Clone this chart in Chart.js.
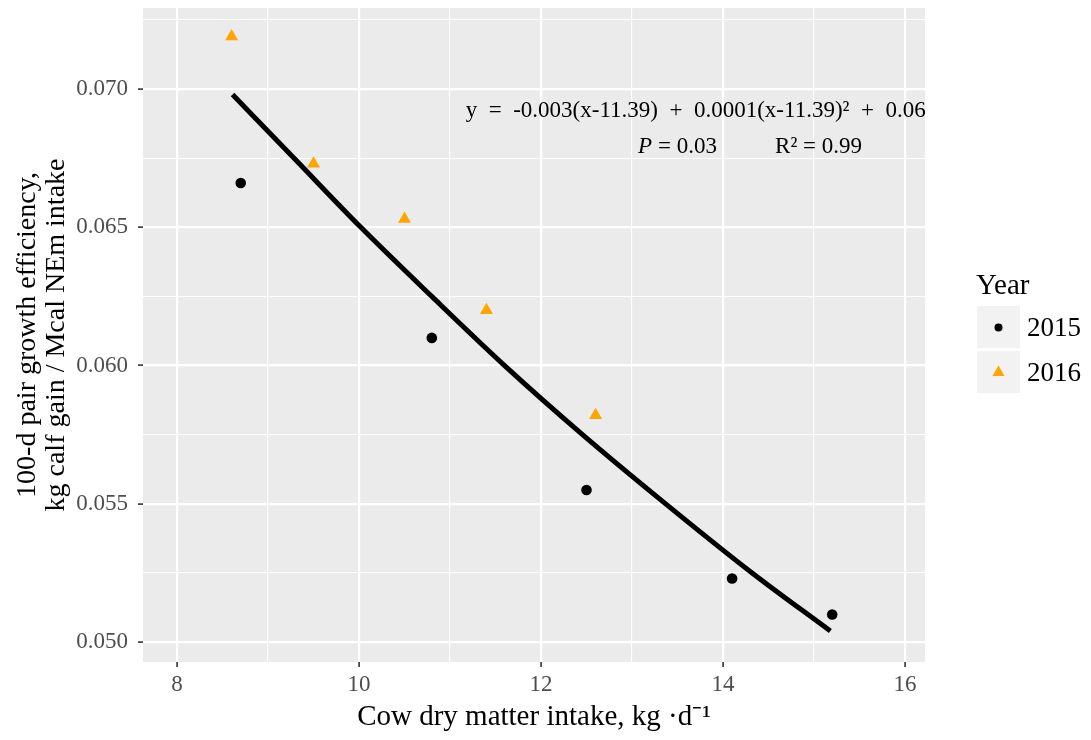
<!DOCTYPE html>
<html lang="en">
<head>
<meta charset="UTF-8" />
<title>Pair growth efficiency</title>
<script src="https://cdn.jsdelivr.net/npm/chart.js"></script>
<style>
  html, body { margin: 0; padding: 0; background: #fff; }
  #wrap { width: 1091px; height: 740px; }
</style>
</head>
<body>
<div id="wrap"><canvas id="myChart"></canvas></div>
<script>
// cow dry matter intake (kg/d) vs 100-d pair growth efficiency
const intake2015 = [8.7, 10.8, 12.5, 14.1, 15.2];
const eff2015 = [0.0666, 0.0610, 0.0555, 0.0523, 0.0510];
const intake2016 = [8.6, 9.5, 10.5, 11.4, 12.6];
const eff2016 = [0.0719, 0.0673, 0.0653, 0.0620, 0.0582];

// quadratic fit line
const fitX = [8.61, 9.3, 10.02, 10.8, 11.6, 12.44, 13.37, 14.32, 15.18];
const fitY = [0.0698, 0.06745, 0.0650, 0.0625, 0.0600, 0.05755, 0.0550, 0.0525, 0.0504];

const xTicks = [8, 10, 12, 14, 16];
const xMinor = [9, 11, 13, 15];
const yTicks = [0.050, 0.055, 0.060, 0.065, 0.070];
const yMinor = [0.0525, 0.0575, 0.0625, 0.0675, 0.0725];

const years = ["2015", "2016"];
const orange = "#FFA500";
const serif = "'Liberation Serif', 'Times New Roman', serif";

const toPts = (xs, ys) => xs.map((x, i) => ({ x: x, y: ys[i] }));

// grey panel behind the plot
const panelBg = {
  id: "panelBg",
  beforeDraw(chart) {
    const { ctx, chartArea: a } = chart;
    ctx.save();
    ctx.fillStyle = "#EBEBEB";
    ctx.fillRect(a.left, a.top, a.right - a.left, a.bottom - a.top);
    ctx.restore();
  }
};

// fit equation + stats
const fitLabel = {
  id: "fitLabel",
  afterDraw(chart) {
    const { ctx, scales: { x, y } } = chart;
    const f = "23px " + serif, fi = "italic 23px " + serif;
    ctx.save();
    ctx.fillStyle = "#000";
    ctx.textBaseline = "middle";
    ctx.textAlign = "center";
    ctx.font = f;
    ctx.fillText("y  =  -0.003(x-11.39)  +  0.0001(x-11.39)\u00B2  +  0.06",
      x.getPixelForValue(13.7), y.getPixelForValue(0.0692));

    // P = 0.03 with italic P
    const px = x.getPixelForValue(13.5), py = y.getPixelForValue(0.0679);
    ctx.font = fi;
    const wP = ctx.measureText("P").width;
    ctx.font = f;
    const wRest = ctx.measureText(" = 0.03").width;
    ctx.textAlign = "left";
    const sx = px - (wP + wRest) / 2;
    ctx.font = fi;
    ctx.fillText("P", sx, py);
    ctx.font = f;
    ctx.fillText(" = 0.03", sx + wP, py);

    ctx.textAlign = "center";
    ctx.fillText("R\u00B2 = 0.99", x.getPixelForValue(15.05), py);
    ctx.restore();
  }
};

// legend on the right: title and grey key boxes
const yearLegend = {
  id: "yearLegend",
  afterDraw(chart) {
    const { ctx } = chart;
    ctx.save();
    ctx.fillStyle = "#000";
    ctx.textBaseline = "alphabetic";
    ctx.textAlign = "left";
    ctx.font = "29px " + serif;
    ctx.fillText("Year", 976, 294);

    const boxX = 977, boxW = 43, boxTop = [306, 351];
    boxTop.forEach((top, i) => {
      ctx.fillStyle = "#F2F2F2";
      ctx.fillRect(boxX, top, boxW, boxW - 1);
      const cx = boxX + boxW / 2, cy = top + boxW / 2;
      if (i === 0) {
        ctx.fillStyle = "#000";
        ctx.beginPath();
        ctx.arc(cx, cy, 4, 0, Math.PI * 2);
        ctx.fill();
      } else {
        const r = 7;
        ctx.fillStyle = orange;
        ctx.beginPath();
        ctx.moveTo(cx, cy - r);
        ctx.lineTo(cx + r * 0.866, cy + r / 2);
        ctx.lineTo(cx - r * 0.866, cy + r / 2);
        ctx.closePath();
        ctx.fill();
      }
      ctx.fillStyle = "#000";
      ctx.font = "27px " + serif;
      ctx.textBaseline = "middle";
      ctx.fillText(years[i], 1027, cy + 1);
    });
    ctx.restore();
  }
};

const isMajor = (list, v) => list.some(t => Math.abs(t - v) < 1e-9);

const ctx = document.getElementById("myChart");
new Chart(ctx, {
  type: "scatter",
  data: {
    datasets: [
      {
        label: "fit",
        data: toPts(fitX, fitY),
        showLine: true,
        borderColor: "#000",
        borderWidth: 5,
        pointRadius: 0,
        cubicInterpolationMode: "monotone",
        order: 0
      },
      {
        label: years[0],
        data: toPts(intake2015, eff2015),
        pointStyle: "circle",
        pointRadius: 5.3,
        backgroundColor: "#000",
        borderWidth: 0,
        order: 1
      },
      {
        label: years[1],
        data: toPts(intake2016, eff2016),
        pointStyle: "triangle",
        pointRadius: 7.5,
        backgroundColor: orange,
        borderWidth: 0,
        order: 2
      }
    ]
  },
  options: {
    responsive: true,
    maintainAspectRatio: false,
    animation: false,
    layout: { padding: { top: 8, right: 166, left: 0, bottom: 0 } },
    plugins: {
      legend: { display: false },
      tooltip: { enabled: false }
    },
    scales: {
      x: {
        type: "linear",
        min: 7.626,
        max: 16.22,
        afterBuildTicks(s) {
          s.ticks = [...xTicks, ...xMinor].sort((a, b) => a - b).map(v => ({ value: v }));
        },
        afterFit(s) {
          s.height = 78;
          s.paddingLeft = 0;
          s.paddingRight = 0;
        },
        border: { display: false },
        grid: {
          color: "#FFFFFF",
          lineWidth: c => isMajor(xTicks, c.tick.value) ? 2.2 : 1.1,
          tickColor: c => isMajor(xTicks, c.tick.value) ? "#333333" : "rgba(0,0,0,0)",
          tickWidth: 1.6,
          tickLength: 5
        },
        ticks: {
          autoSkip: false,
          maxRotation: 0,
          padding: 4,
          color: "#4D4D4D",
          font: { family: serif, size: 23 },
          callback: v => isMajor(xTicks, v) ? String(v) : ""
        },
        title: {
          display: true,
          text: "Cow dry matter intake, kg \u00B7d\u207B\u00B9",
          color: "#000",
          font: { family: serif, size: 29 },
          padding: { top: 0, bottom: 5 }
        }
      },
      y: {
        type: "linear",
        min: 0.04928,
        max: 0.07293,
        afterBuildTicks(s) {
          s.ticks = [...yTicks, ...yMinor].sort((a, b) => a - b).map(v => ({ value: v }));
        },
        afterFit(s) {
          s.width = 143;
          s.paddingTop = 0;
          s.paddingBottom = 0;
        },
        border: { display: false },
        grid: {
          color: "#FFFFFF",
          lineWidth: c => isMajor(yTicks, c.tick.value) ? 2.2 : 1.1,
          tickColor: c => isMajor(yTicks, c.tick.value) ? "#333333" : "rgba(0,0,0,0)",
          tickWidth: 1.6,
          tickLength: 5
        },
        ticks: {
          autoSkip: false,
          padding: 10,
          color: "#4D4D4D",
          font: { family: serif, size: 23 },
          callback: v => isMajor(yTicks, v) ? v.toFixed(3) : ""
        },
        title: {
          display: true,
          text: ["100-d pair growth efficiency,", "kg calf gain / Mcal NEm intake"],
          color: "#000",
          font: { family: serif, size: 28, lineHeight: 1.03 },
          padding: { top: 13, bottom: 0 }
        }
      }
    }
  },
  plugins: [panelBg, fitLabel, yearLegend]
});
</script>
</body>
</html>
